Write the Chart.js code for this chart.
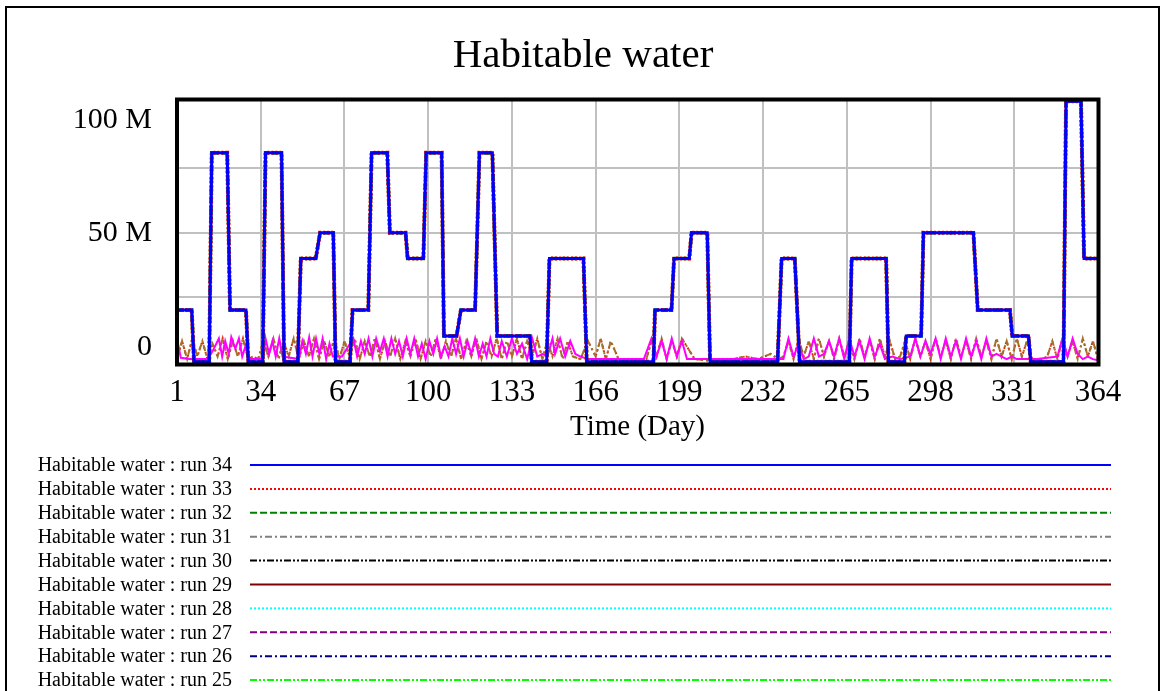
<!DOCTYPE html>
<html>
<head>
<meta charset="utf-8">
<title>Habitable water</title>
<script src="https://cdn.jsdelivr.net/npm/chart.js@4.4.0/dist/chart.umd.min.js"></script>
<style>
  html, body { margin: 0; padding: 0; background: #fff; overflow: hidden; }
  #wrap { position: relative; width: 1160px; height: 691px; }
</style>
</head>
<body>
<div id="wrap"><canvas id="chart" width="1160" height="691"></canvas></div>
<script>
// axis setup (values in millions)
const xTicks = [1, 34, 67, 100, 133, 166, 199, 232, 265, 298, 331, 364]
const yGrid = [25, 50, 75]
const yLabels = [0, 50, 100]
const yMin = -0.9
const yMax = 101.5

// runs listed top to bottom in the legend
const runNames = ['run 34', 'run 33', 'run 32', 'run 31', 'run 30', 'run 29', 'run 28', 'run 27', 'run 26', 'run 25', 'run 24', 'run 23', 'run 22']

// stepped storage runs: breakpoints (day) and level (M)
const stepDays = [1, 6.8, 7.7, 13.7, 14.7, 20.8, 21.9, 28.2, 29.1, 34.8,
  35.9, 42.2, 43.2, 48.6, 49.8, 55.7, 57.4, 62.6, 63.5, 69.2,
  70.2, 76.4, 77.7, 83.9, 84.9, 91.1, 91.9, 98.1, 99.2, 105.3,
  106.2, 111.2, 112.9, 118.5, 120.2, 125.3, 127.2, 140.1, 140.8, 146.7,
  147.8, 161.2, 162.5, 188.8, 189.4, 195.9, 196.9, 202.9, 203.8, 210,
  211.1, 237.7, 239.3, 244.5, 246.4, 266, 266.9, 280.5, 281.4, 287.7,
  288.4, 294.3, 295.2, 314.9, 316.6, 329.3, 330.2, 336.6, 337.5, 350.4,
  351.4, 357.3, 358.5, 364]
const stepValues = [20, 20, 0, 0, 81, 81, 20, 20, 0, 0,
  81, 81, 0, 0, 40, 40, 50, 50, 0, 0,
  20, 20, 81, 81, 50, 50, 40, 40, 81, 81,
  10, 10, 20, 20, 81, 81, 10, 10, 0, 0,
  40, 40, 0, 0, 20, 20, 40, 40, 50, 50,
  0, 0, 40, 40, 0, 0, 40, 40, 0, 0,
  10, 10, 50, 50, 20, 20, 10, 10, 0, 0,
  101, 101, 40, 40]

// daily-fluctuating runs near the floor
const pinkDays = [1, 2.5, 6, 13, 15, 17.5, 18.8, 20, 21.4, 22.4, 24, 25.4, 26.7, 28, 29.3, 35,
  35.9, 37.3, 38.6, 39.9, 41.3, 42.6, 49, 50.4, 51.8, 53.1, 54.4, 55.8, 57.1, 58.4, 59.8, 61.1, 62.4,
  66, 70.5, 72, 73.5, 75, 76.5, 78, 79.5, 81, 82.5, 84, 85.5, 87, 88.5, 90, 91.5, 93, 94.5, 96, 97.5,
  99, 100.5, 102, 103.5, 105, 106.5, 108, 109.5, 111, 112.5, 114, 115.5, 117, 118.5, 120, 121.5,
  123, 124.5, 126, 127.5, 129, 131, 133, 135, 137, 139, 141, 143, 145, 147, 149, 150, 152, 154, 156, 158, 160, 163,
  185, 188, 190, 192, 194, 196, 198, 200, 202, 205, 210, 225, 240, 242, 244, 246, 248, 250,
  252, 254, 256, 258, 260, 262, 264, 266, 268, 270, 272, 274, 276, 278, 280, 283, 286, 290,
  292, 294, 296, 298, 300, 302, 304, 306, 308, 310, 312, 314, 316, 318, 320, 322, 324, 326,
  328, 330, 332, 334, 340, 348, 350, 352, 354, 356, 358, 360, 362, 364]
const pinkValues = [9, 1.5, 1, 1, 4, 9, 2, 8, 3, 9.5, 5, 9, 2, 6, 1, 1,
  9, 3, 8, 2, 9, 2, 1, 8, 3, 9.5, 2, 9, 3, 9, 1, 7, 2,
  2, 9, 2, 8, 3, 9, 2, 9, 4, 9, 2, 9, 3, 8, 2, 9, 3, 9, 2, 7,
  1, 8, 3, 9, 2, 6, 2, 9, 3, 9, 2, 8, 3, 9, 2, 7,
  2, 9, 3, 2, 8, 2, 9, 3, 7, 1, 9, 2, 3, 2, 9, 3, 9, 2, 8, 3, 2, 1,
  1, 9, 2, 8, 1, 9, 2, 8, 1, 1, 1, 1, 1, 9, 2, 7, 1, 2,
  9, 2, 3, 8, 2, 9, 1, 9, 2, 8, 1, 9, 2, 7, 1, 2, 1, 2,
  9, 2, 8, 3, 9, 1, 9, 2, 8, 1, 9, 2, 8, 1, 9, 2, 3, 2,
  1, 2, 1, 1, 1, 2, 9, 2, 9, 3, 1, 2, 1, 0.5]
const oliveDays = [1, 3, 5, 7, 9, 11, 13, 15, 17, 19, 21, 23, 25, 27, 29, 31, 33, 35, 37, 39, 41, 43, 45,
  47, 49, 51, 53, 55, 57, 59, 61, 63, 65, 67, 69, 71, 73, 75, 77, 79, 81, 83, 85, 87, 89, 91, 93,
  95, 97, 99, 101, 103, 105, 107, 109, 111, 113, 115, 117, 119, 121, 123, 125, 127, 129, 131, 133,
  135, 137, 139, 141, 143, 145, 147, 149, 151, 153, 155, 157, 160, 163, 166, 168, 170, 172, 175,
  180, 186, 188, 190, 192, 194, 196, 198, 200, 205, 210, 215, 220, 225, 230, 235, 238, 240, 242,
  244, 246, 248, 250, 252, 254, 256, 258, 260, 262, 264, 266, 268, 270, 272, 274, 276, 278, 280,
  282, 284, 286, 288, 290, 292, 294, 296, 298, 300, 302, 304, 306, 308, 310, 312, 314, 316, 318,
  320, 322, 324, 326, 328, 330, 332, 334, 336, 338, 340, 342, 344, 346, 348, 350, 352, 354, 356,
  358, 360, 362, 364]
const oliveValues = [1, 8, 1, 9, 2, 8, 1, 7, 2, 9, 1, 8, 2, 9, 1, 2, 1, 8, 2, 9, 1, 8, 2,
  9, 1, 8, 2, 9, 1, 8, 2, 9, 1, 8, 2, 9, 1, 8, 2, 9, 1, 8, 2, 9, 1, 8, 2,
  9, 1, 8, 2, 9, 1, 8, 2, 9, 1, 8, 2, 9, 1, 8, 2, 9, 1, 8, 2,
  9, 1, 8, 2, 9, 1, 8, 2, 9, 1, 8, 2, 1, 8, 2, 9, 1, 8, 1,
  0.5, 1, 8, 2, 9, 1, 8, 2, 9, 1, 0.5, 0.5, 1, 2, 1, 3, 1, 2, 8,
  1, 9, 2, 8, 1, 9, 2, 8, 1, 9, 2, 8, 1, 9, 2, 8, 1, 9, 2,
  8, 1, 2, 8, 1, 9, 2, 8, 1, 9, 2, 8, 1, 9, 2, 8, 1, 9, 2,
  8, 1, 9, 2, 8, 1, 9, 2, 8, 1, 1, 1, 2, 8, 1, 9, 2, 8, 1,
  9, 2, 8, 1]

// line look for each run
const runColors = ['#0000ff', '#ff0000', '#008000', '#808080', '#000000', '#800000', '#00ffff', '#800080', '#000080', '#00ff00', '#ff00ff', '#a0722a', '#e03010']
const runDashes = [[], [2, 2], [7, 3], [7, 3, 2, 3], [7, 2, 2, 2, 2, 2], [], [2, 2], [7, 3], [7, 3, 2, 3], [7, 2, 2, 2, 2, 2], [], [6, 3, 2, 3], [2, 3]]
// plot widths; the runs under run 34 peek out along its edges
const runWidths = [3, 4, 3.6, 3, 2, 2, 2, 2, 2, 2, 2, 2, 2]

function points(days, vals) {
  return days.map((d, i) => ({ x: d, y: vals[i] }))
}

const stepPts = points(stepDays, stepValues)
const runData = runNames.map((n, i) => {
  if (i <= 3) return stepPts
  if (i === 10) return points(pinkDays, pinkValues)
  if (i === 11 || i === 12) return points(oliveDays, oliveValues)
  return []
})

const datasets = runNames.map((n, i) => ({
  label: 'Habitable water : ' + n,
  data: runData[i],
  borderColor: runColors[i],
  borderDash: runDashes[i],
  borderWidth: runWidths[i],
  pointRadius: 0,
  tension: 0,
  fill: false
}))

const FONT = '"Liberation Serif", "Times New Roman", serif'

// frame, plot border, title, y labels and legend rows
const decor = {
  id: 'decor',
  beforeDraw(chart) {
    const { ctx } = chart
    ctx.save()
    ctx.fillStyle = '#fff'
    ctx.fillRect(0, 0, chart.width, chart.height)
    ctx.strokeStyle = '#000'
    ctx.lineWidth = 2
    ctx.strokeRect(6, 7, 1153, 1000)
    ctx.fillStyle = '#000'
    ctx.font = '41px ' + FONT
    ctx.textAlign = 'center'
    ctx.textBaseline = 'middle'
    ctx.fillText('Habitable water', 583, 56)
    ctx.restore()
  },
  afterDatasetsDraw(chart) {
    const { ctx, chartArea: a, scales: { y } } = chart
    ctx.save()
    ctx.strokeStyle = '#000'
    ctx.lineWidth = 4
    ctx.strokeRect(a.left, a.top - 0.5, a.right - a.left + 0.5, a.bottom - a.top + 1)

    ctx.fillStyle = '#000'
    ctx.font = '30px ' + FONT
    ctx.textAlign = 'right'
    ctx.textBaseline = 'middle'
    yLabels.forEach(v => {
      let py = y.getPixelForValue(v)
      py = Math.min(Math.max(py, a.top + 20), a.bottom - 17)
      ctx.fillText(v === 0 ? '0' : v + ' M', 152, py)
    })

    ctx.font = '20px ' + FONT
    chart.data.datasets.forEach((ds, i) => {
      const ry = 465 + 23.9 * i
      ctx.fillStyle = '#000'
      ctx.fillText(ds.label, 232, ry + 1)
      ctx.strokeStyle = ds.borderColor
      ctx.lineWidth = 2
      ctx.setLineDash(ds.borderDash)
      ctx.beginPath()
      ctx.moveTo(250, ry)
      ctx.lineTo(1111, ry)
      ctx.stroke()
    })
    ctx.restore()
  }
}

new Chart(document.getElementById('chart'), {
  type: 'line',
  data: { datasets },
  plugins: [decor],
  options: {
    responsive: false,
    animation: false,
    devicePixelRatio: 1,
    layout: { padding: { top: 100, right: 62, left: 0, bottom: 691 - 445 } },
    plugins: { legend: { display: false }, tooltip: { enabled: false }, title: { display: false } },
    scales: {
      x: {
        type: 'linear',
        min: 1,
        max: 364,
        afterBuildTicks: s => { s.ticks = xTicks.map(v => ({ value: v })) },
        afterFit: s => { s.height = 81 },
        grid: { color: '#c0c0c0', lineWidth: 2, drawTicks: false },
        border: { display: false },
        ticks: { color: '#000', font: { family: FONT, size: 31 }, padding: 10, maxRotation: 0, autoSkip: false },
        title: { display: true, text: 'Time (Day)', color: '#000', font: { family: FONT, size: 29 }, padding: 0 }
      },
      y: {
        min: yMin,
        max: yMax,
        afterBuildTicks: s => { s.ticks = yGrid.map(v => ({ value: v })) },
        afterFit: s => { s.width = 177 },
        grid: { color: '#c0c0c0', lineWidth: 2, drawTicks: false },
        border: { display: false },
        ticks: { display: false }
      }
    }
  }
})
</script>
</body>
</html>
